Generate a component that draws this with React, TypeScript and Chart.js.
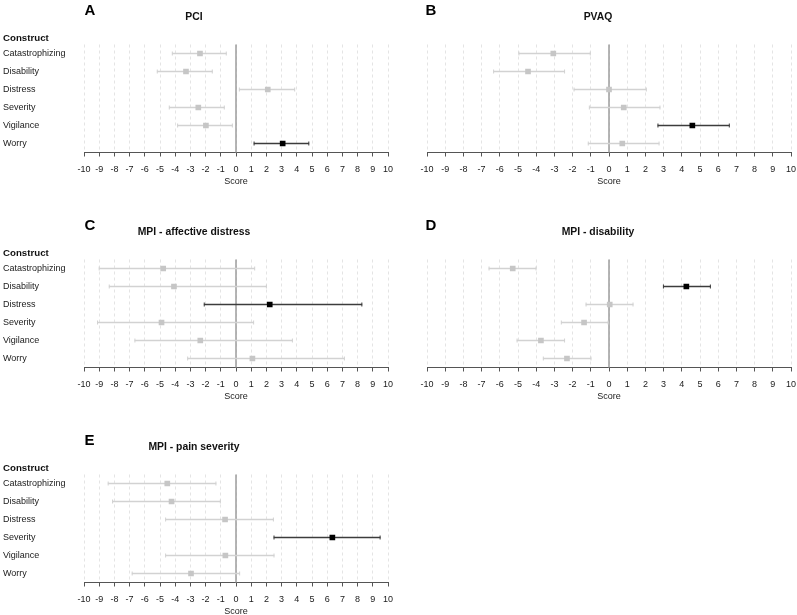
import React, { useEffect, useRef } from 'react';
import { Chart, registerables } from 'chart.js';

Chart.register(...registerables);

const FONT = "'Liberation Sans', Arial, Helvetica, sans-serif";
Chart.defaults.font.family = FONT;

// ---- data ----
const constructs = ['Catastrophizing', 'Disability', 'Distress', 'Severity', 'Vigilance', 'Worry'];
const scoreMin = -10;
const scoreMax = 10;
const scoreStep = 1;

const pciEst = [-2.37, -3.29, 2.09, -2.48, -1.98, 3.07];
const pciLow = [-4.19, -5.18, 0.22, -4.39, -3.84, 1.19];
const pciHigh = [-0.64, -1.56, 3.86, -0.77, -0.24, 4.79];

const pvaqEst = [-3.06, -4.45, 0.0, 0.81, 4.58, 0.73];
const pvaqLow = [-4.95, -6.34, -1.92, -1.08, 2.69, -1.14];
const pvaqHigh = [-1.03, -2.44, 2.05, 2.8, 6.61, 2.75];

const affEst = [-4.79, -4.08, 2.22, -4.9, -2.35, 1.08];
const affLow = [-9.0, -8.34, -2.09, -9.11, -6.65, -3.18];
const affHigh = [1.23, 2.0, 8.28, 1.16, 3.71, 7.13];

const disEst = [-5.29, 4.25, 0.04, -1.37, -3.74, -2.31];
const disLow = [-6.59, 2.99, -1.26, -2.62, -5.05, -3.61];
const disHigh = [-4.01, 5.57, 1.32, -0.05, -2.44, -0.99];

const sevEst = [-4.52, -4.24, -0.72, 6.34, -0.7, -2.96];
const sevLow = [-8.41, -8.12, -4.63, 2.5, -4.63, -6.83];
const sevHigh = [-1.32, -1.03, 2.46, 9.48, 2.5, 0.24];

type PanelDef = {
  letter: string;
  title: string;
  est: number[];
  low: number[];
  high: number[];
  highlight: string;
  showLabels: boolean;
  left: number;
  top: number;
};

const panels: PanelDef[] = [
  { letter: 'A', title: 'PCI', est: pciEst, low: pciLow, high: pciHigh, highlight: 'Worry', showLabels: true, left: 0, top: 0 },
  { letter: 'B', title: 'PVAQ', est: pvaqEst, low: pvaqLow, high: pvaqHigh, highlight: 'Vigilance', showLabels: false, left: 400, top: 0 },
  { letter: 'C', title: 'MPI - affective distress', est: affEst, low: affLow, high: affHigh, highlight: 'Distress', showLabels: true, left: 0, top: 215 },
  { letter: 'D', title: 'MPI - disability', est: disEst, low: disLow, high: disHigh, highlight: 'Disability', showLabels: false, left: 400, top: 215 },
  { letter: 'E', title: 'MPI - pain severity', est: sevEst, low: sevLow, high: sevHigh, highlight: 'Severity', showLabels: true, left: 0, top: 430 },
];

const zeroLinePlugin = {
  id: 'zeroLine',
  beforeDatasetsDraw(chart: any) {
    const { ctx, chartArea, scales } = chart;
    const x = scales.x.getPixelForValue(0);
    ctx.save();
    ctx.strokeStyle = '#9c9c9c';
    ctx.lineWidth = 1.5;
    ctx.beginPath();
    ctx.moveTo(x, chartArea.top);
    ctx.lineTo(x, chartArea.bottom);
    ctx.stroke();
    ctx.restore();
  },
};

const CANVAS_H = 187;

function ForestPanel({ def }: { def: PanelDef }) {
  const ref = useRef<HTMLCanvasElement>(null);
  const width = def.showLabels ? 398 : 397;

  useEffect(() => {
    if (!ref.current) return;
    const pointColors = constructs.map((c) => (c === def.highlight ? '#000000' : '#c6c6c6'));
    const lineColors = constructs.map((c) => (c === def.highlight ? '#3c3c3c' : '#d2d2d2'));
    const capData: { x: number; y: string }[] = [];
    const capColors: string[] = [];
    constructs.forEach((c, i) => {
      capData.push({ x: def.low[i], y: c }, { x: def.high[i], y: c });
      capColors.push(lineColors[i], lineColors[i]);
    });
    const pointData = constructs.map((c, i) => ({ x: def.est[i], y: c }));

    const chart = new Chart(ref.current, {
      type: 'bar',
      data: {
        labels: constructs,
        datasets: [
          {
            type: 'bar',
            data: constructs.map((_, i) => [def.low[i], def.high[i]]),
            backgroundColor: lineColors,
            barThickness: 1,
            borderWidth: 0,
            order: 3,
          } as any,
          {
            type: 'scatter',
            data: capData,
            pointStyle: 'line',
            pointRotation: 90,
            pointRadius: 2,
            pointBorderWidth: 1,
            pointBorderColor: capColors,
            order: 2,
          } as any,
          {
            type: 'scatter',
            data: pointData,
            pointStyle: 'rect',
            pointRadius: 4,
            pointBorderWidth: 0,
            pointBackgroundColor: pointColors,
            order: 1,
          } as any,
        ],
      },
      options: {
        responsive: false,
        animation: false,
        indexAxis: 'y',
        layout: {
          padding: { left: def.showLabels ? 3 : 0, right: def.showLabels ? 10 : 6, top: 44.5, bottom: 0.5 },
        },
        plugins: {
          legend: { display: false },
          tooltip: { enabled: false },
          title: { display: false },
        },
        scales: {
          x: {
            type: 'linear',
            position: 'bottom',
            min: scoreMin,
            max: scoreMax,
            ticks: {
              stepSize: scoreStep,
              autoSkip: false,
              maxRotation: 0,
              font: { size: 9, family: FONT },
              color: '#1a1a1a',
              padding: 7.5,
            },
            grid: { color: '#e4e4e4', lineWidth: 1, tickLength: 4, tickColor: '#555555', drawTicks: true },
            border: { color: '#555555', dash: [3, 3], width: 1 },
            title: { display: true, text: 'Score', font: { size: 9, family: FONT }, color: '#1a1a1a', padding: { top: 0, bottom: 0 } },
            afterFit: (s: any) => {
              s.height = 34;
              s.paddingLeft = 0;
              s.paddingRight = 0;
            },
          },
          y: {
            type: 'category',
            labels: constructs,
            offset: true,
            position: 'left',
            ticks: { display: def.showLabels, crossAlign: 'far', font: { size: 9, family: FONT }, color: '#1a1a1a', padding: 0 },
            grid: { display: false },
            border: { display: false },
            afterFit: (s: any) => {
              s.width = def.showLabels ? 81 : 27;
            },
          },
        },
      } as any,
      plugins: [zeroLinePlugin],
    });
    return () => chart.destroy();
  }, [def]);

  const titleCx = def.showLabels ? 194 : 198;
  const letterLeft = def.showLabels ? 84.5 : 25.5;

  return (
    <div style={{ position: 'absolute', left: def.left, top: def.top, width, height: CANVAS_H }}>
      <canvas ref={ref} width={width} height={CANVAS_H} style={{ position: 'absolute', left: 0, top: 0, width, height: CANVAS_H }} />
      <div style={{ position: 'absolute', left: letterLeft, top: 1.5, fontSize: 15, lineHeight: '15px', fontWeight: 'bold', color: '#000', whiteSpace: 'nowrap' }}>
        {def.letter}
      </div>
      <div
        style={{
          position: 'absolute',
          left: titleCx,
          top: 11.8,
          transform: 'translateX(-50%)',
          fontSize: 10.4,
          lineHeight: '10.4px',
          fontWeight: 'bold',
          color: '#111',
          whiteSpace: 'nowrap',
        }}
      >
        {def.title}
      </div>
      {def.showLabels && (
        <div style={{ position: 'absolute', left: 3, top: 32.5, fontSize: 9.7, lineHeight: '9.7px', fontWeight: 'bold', color: '#111', whiteSpace: 'nowrap' }}>
          Construct
        </div>
      )}
    </div>
  );
}

export default function App() {
  return (
    <div
      style={{
        position: 'absolute',
        left: 0,
        top: 0,
        width: 797,
        height: 615,
        overflow: 'hidden',
        background: '#ffffff',
        fontFamily: FONT,
      }}
    >
      {panels.map((p) => (
        <ForestPanel key={p.letter} def={p} />
      ))}
    </div>
  );
}
